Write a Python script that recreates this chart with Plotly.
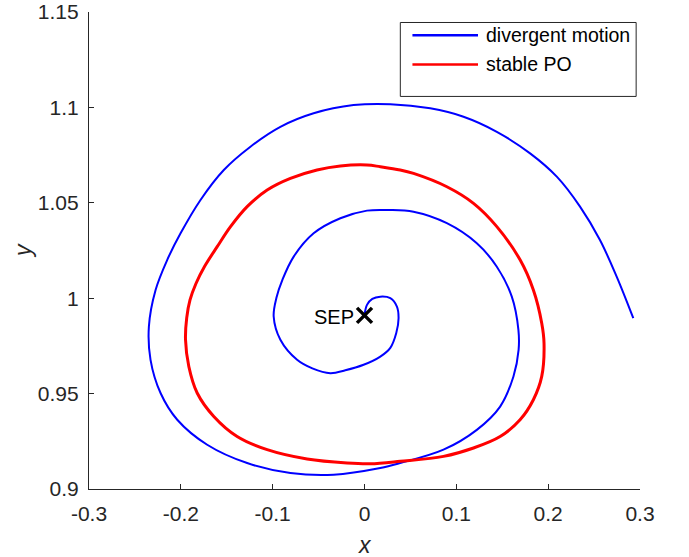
import plotly.graph_objects as go

# Divergent trajectory spiralling out from the stable equilibrium point (SEP)
div_x = [0.0000, 0.0027, 0.0085, 0.0172, 0.0281, 0.0353, 0.0371, 0.0346, 0.0281,
         0.0172, -0.0010, -0.0209, -0.0372, -0.0568, -0.0734, -0.0916, -0.0989,
         -0.0959, -0.0894, -0.0771, -0.0554, -0.0263, 0.0027, 0.0262, 0.0534,
         0.0897, 0.1223, 0.1441, 0.1604, 0.1676, 0.1678, 0.1622, 0.1477, 0.1223,
         0.0860, 0.0389, 0.0172, -0.0336, -0.0807, -0.1278, -0.1713, -0.2039,
         -0.2221, -0.2330, -0.2348, -0.2275, -0.2148, -0.2003, -0.1786, -0.1532,
         -0.1242, -0.0916, -0.0554, -0.0119, 0.0281, 0.0716, 0.1078, 0.1441,
         0.1803, 0.2094, 0.2347, 0.2564, 0.2746, 0.2927]
div_y = [0.9910, 0.9965, 0.9996, 1.0008, 1.0000, 0.9956, 0.9895, 0.9818, 0.9740,
         0.9694, 0.9651, 0.9622, 0.9607, 0.9632, 0.9677, 0.9782, 0.9904,
         1.0002, 1.0096, 1.0218, 1.0340, 1.0419, 1.0459, 1.0462, 1.0453,
         1.0393, 1.0288, 1.0165, 1.0008, 0.9834, 0.9729, 0.9590, 0.9432, 0.9310,
         0.9206, 0.9136, 0.9110, 0.9075, 0.9084, 0.9136, 0.9232, 0.9363,
         0.9503, 0.9677, 0.9851, 1.0043, 1.0201, 1.0340, 1.0515, 1.0672,
         1.0794, 1.0898, 1.0969, 1.1012, 1.1017, 1.0995, 1.0951, 1.0872,
         1.0759, 1.0637, 1.0480, 1.0305, 1.0113, 0.9895]

# Stable periodic orbit (closed loop)
po_x = [0.0027, 0.0172, 0.0389, 0.0534, 0.0897, 0.1187, 0.1441, 0.1694, 0.1839,
        0.1930, 0.1955, 0.1930, 0.1839, 0.1694, 0.1477, 0.1187, 0.0860, 0.0389,
        0.0063, -0.0190, -0.0625, -0.1060, -0.1387, -0.1641, -0.1822, -0.1913,
        -0.1949, -0.1936, -0.1900, -0.1835, -0.1742, -0.1604, -0.1459, -0.1278,
        -0.1060, -0.0807, -0.0517, -0.0263, 0.0027]
po_y = [1.0698, 1.0689, 1.0672, 1.0654, 1.0584, 1.0497, 1.0375, 1.0201, 1.0043,
        0.9869, 0.9764, 0.9590, 0.9468, 0.9363, 0.9275, 0.9215, 0.9171, 0.9145,
        0.9132, 0.9136, 0.9157, 0.9206, 0.9275, 0.9380, 0.9503, 0.9642,
        0.9782, 0.9897, 0.9991, 1.0077, 1.0166, 1.0270, 1.0375, 1.0480,
        1.0567, 1.0628, 1.0672, 1.0693, 1.0698]

# Stable equilibrium point
sep_x = [0.0]
sep_y = [0.991]

series_names = ["divergent motion", "stable PO"]
series_colors = ["#0000ff", "#ff0000"]

x_ticks = [-0.3, -0.2, -0.1, 0, 0.1, 0.2, 0.3]
x_tick_text = ["-0.3", "-0.2", "-0.1", "0", "0.1", "0.2", "0.3"]
y_ticks = [0.9, 0.95, 1.0, 1.05, 1.1, 1.15]
y_tick_text = ["0.9", "0.95", "1", "1.05", "1.1", "1.15"]

FONT = "Liberation Sans, Arial, Helvetica, sans-serif"
AXIS_COLOR = "#262626"

fig = go.Figure()
fig.add_trace(go.Scatter(x=div_x, y=div_y, mode="lines", name=series_names[0],
                         line=dict(color=series_colors[0], width=2, shape="spline", smoothing=1.0),
                         showlegend=False))
fig.add_trace(go.Scatter(x=po_x, y=po_y, mode="lines", name=series_names[1],
                         line=dict(color=series_colors[1], width=3, shape="spline", smoothing=1.0),
                         showlegend=False))
fig.add_trace(go.Scatter(x=sep_x, y=sep_y, mode="markers", name="SEP",
                         marker=dict(symbol="x-thin", size=15, color="black",
                                     line=dict(color="black", width=3.5)),
                         showlegend=False))

annotations = [
    dict(x=sep_x[0], y=sep_y[0], xref="x", yref="y", text="SEP", showarrow=False,
         xanchor="right", yanchor="middle", xshift=-9, yshift=-2,
         font=dict(family=FONT, size=20, color="black")),
    dict(x=0.5, y=-0.117, xref="paper", yref="paper", text="<i>x</i>", showarrow=False,
         xanchor="center", yanchor="middle", font=dict(family=FONT, size=23, color=AXIS_COLOR)),
    dict(x=-0.12, y=0.501, xref="paper", yref="paper", text="<i>y</i>", showarrow=False,
         textangle=-90, xanchor="center", yanchor="middle",
         font=dict(family=FONT, size=23, color=AXIS_COLOR)),
]

# Legend box drawn in paper coordinates
shapes = [
    dict(type="rect", xref="paper", yref="paper", x0=0.565, x1=0.993, y0=0.823, y1=0.978,
         line=dict(color=AXIS_COLOR, width=1), fillcolor="white", layer="above"),
]
legend_rows = [0.951, 0.890]
for name, color, yy in zip(series_names, series_colors, legend_rows):
    shapes.append(dict(type="line", xref="paper", yref="paper", x0=0.587, x1=0.706,
                       y0=yy, y1=yy, line=dict(color=color, width=2.5), layer="above"))
    annotations.append(dict(x=0.716, y=yy, xref="paper", yref="paper", text=name,
                            showarrow=False, xanchor="left", yanchor="middle",
                            font=dict(family=FONT, size=19.5, color="black")))

fig.update_layout(
    width=689, height=557,
    margin=dict(l=89, r=49, t=12, b=68, autoexpand=False),
    paper_bgcolor="white", plot_bgcolor="white",
    font=dict(family=FONT, size=21, color=AXIS_COLOR),
    xaxis=dict(range=[-0.3, 0.3], tickvals=x_ticks, ticktext=x_tick_text, automargin=False,
               showgrid=False, zeroline=False, showline=True, linecolor=AXIS_COLOR,
               linewidth=1.2, ticks="inside", ticklen=5, tickwidth=1.2, tickcolor=AXIS_COLOR,
               ticklabelstandoff=6, tickfont=dict(family=FONT, size=21, color=AXIS_COLOR)),
    yaxis=dict(range=[0.9, 1.15], tickvals=y_ticks, ticktext=y_tick_text, automargin=False,
               showgrid=False, zeroline=False, showline=True, linecolor=AXIS_COLOR,
               linewidth=1.2, ticks="inside", ticklen=5, tickwidth=1.2, tickcolor=AXIS_COLOR,
               ticklabelstandoff=5, tickfont=dict(family=FONT, size=21, color=AXIS_COLOR)),
    shapes=shapes,
    annotations=annotations,
)

fig.write_html("out.html")
